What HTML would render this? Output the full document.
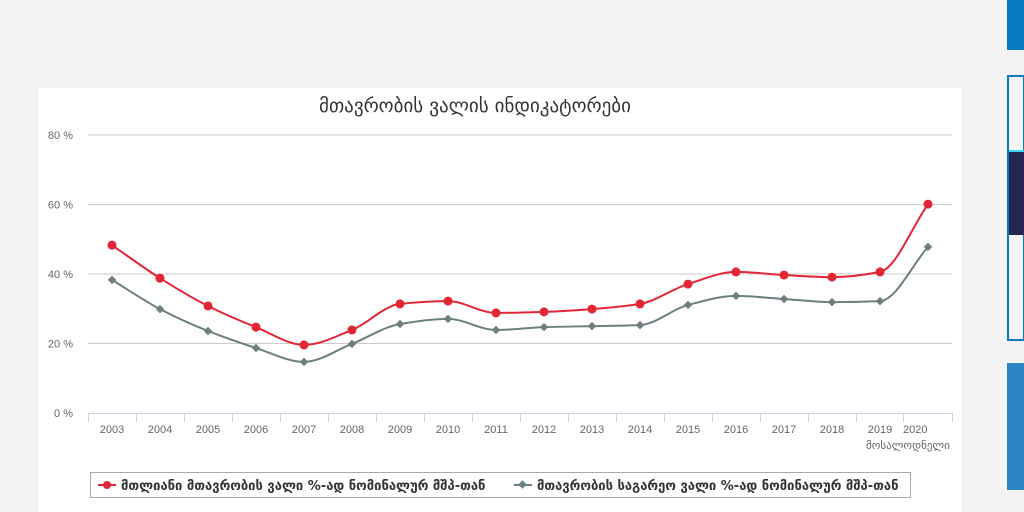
<!DOCTYPE html>
<html><head><meta charset="utf-8"><style>
body{margin:0;width:1024px;height:512px;overflow:hidden;background:#f3f3f3;font-family:"Liberation Sans","DejaVu Sans",sans-serif;}
svg{position:absolute;left:0;top:0}
</style></head><body>
<svg width="1024" height="512">
<rect x="38" y="88" width="924" height="424" fill="#fff"/>
<rect x="1007" y="0" width="17" height="50" fill="#0a7ac0"/>
<rect x="1008" y="76" width="16" height="264" fill="#f4f4f4" stroke="#0a7ac0" stroke-width="2"/>
<rect x="1009" y="150" width="15" height="2" fill="#3dd6f0"/>
<rect x="1009" y="152" width="15" height="83" fill="#252550"/>
<rect x="1007" y="363" width="17" height="127" fill="#2a85c4"/>
<text x="475" y="112" text-anchor="middle" font-family="DejaVu Sans,sans-serif" font-size="19" fill="#333">მთავრობის ვალის ინდიკატორები</text>
<g id="grid"></g><g id="xaxis"></g><g id="series"></g>
<g>
<rect x="90.5" y="472.5" width="820" height="25" fill="#fff" stroke="#aaa"/>
<g>
<line x1="98" y1="485" x2="116" y2="485" stroke="#e32636" stroke-width="2"/><circle cx="107" cy="485" r="4" fill="#e32636"/>
<text x="121" y="490" font-family="DejaVu Sans,sans-serif" font-size="13" font-weight="bold" fill="#333">მთლიანი მთავრობის ვალი %-ად ნომინალურ მშპ-თან</text></g>
<g>
<line x1="514" y1="485" x2="532" y2="485" stroke="#6b8080" stroke-width="2"/><rect x="519.5" y="481.5" width="6" height="6" transform="rotate(45 522.5 484.5)" fill="#6b8080"/>
<text x="537" y="490" font-family="DejaVu Sans,sans-serif" font-size="13" font-weight="bold" fill="#333">მთავრობის საგარეო ვალი %-ად ნომინალურ მშპ-თან</text></g>
</g>
</svg>
<script>
const years=["2003","2004","2005","2006","2007","2008","2009","2010","2011","2012","2013","2014","2015","2016","2017","2018","2019","2020"];
const totalDebt=[48.3,38.8,30.8,24.7,19.6,23.9,31.4,32.2,28.8,29.1,29.9,31.4,37.1,40.6,39.7,39.1,40.6,60.1];
const externalDebt=[38.3,29.9,23.6,18.7,14.7,19.9,25.6,27.1,23.9,24.7,25.0,25.3,31.1,33.7,32.8,31.9,32.2,47.8];
const yTicks=[0,20,40,60,80];
const NS="http://www.w3.org/2000/svg";
const x0=88,x1=952,y0=413,y80=135;
const bw=48;
function bandStart(i){return i<17?x0+i*bw:903;}
function bandEnd(i){return i<17?x0+(i+1)*bw:953;}
function xs(i){return (bandStart(i)+bandEnd(i))/2;}
function ys(v){return y0-(v/80)*(y0-y80);}
function mk(t,a,p){const e=document.createElementNS(NS,t);for(const k in a)e.setAttribute(k,a[k]);p.appendChild(e);return e;}
const grid=document.getElementById('grid');
yTicks.forEach(v=>{
 if(v>0){const l=mk('line',{x1:x0,x2:x1,y1:ys(v),y2:ys(v),stroke:'#ccc','stroke-width':1},grid);
 
 }
 const t=mk('text',{x:73,y:ys(v)+4,'text-anchor':'end','font-size':11,fill:'#666'},grid);
 t.textContent=v+' %';
 
 
});
const xa=document.getElementById('xaxis');
const ax=mk('line',{x1:x0,x2:953,y1:413.5,y2:413.5,stroke:'#c6d6e8'},xa);


years.forEach((y,i)=>{
 mk('line',{x1:bandStart(i)+.5,x2:bandStart(i)+.5,y1:413,y2:422,stroke:'#c6d6e8'},xa);
 const t=mk('text',{x:i<17?xs(i):903,y:433,'text-anchor':i<17?'middle':'start','font-size':11,fill:'#666'},xa);
 t.textContent=y;
 
 
});
mk('line',{x1:952.5,x2:952.5,y1:413,y2:422,stroke:'#c6d6e8'},xa);
const n=mk('text',{x:866,y:449,'font-size':11,fill:'#666','font-family':'DejaVu Sans,sans-serif'},xa);
n.textContent='მოსალოდნელი';


function path(vals){
 const p=vals.map((v,i)=>[xs(i),ys(v)]);const N=p.length;
 const s=[];for(let i=0;i<N-1;i++)s.push((p[i+1][1]-p[i][1])/(p[i+1][0]-p[i][0]));
 const m=[];
 for(let i=0;i<N;i++){
  if(i==0)m.push(s[0]);else if(i==N-1)m.push(s[N-2]);
  else if(s[i-1]*s[i]<=0)m.push(0);
  else{const h0=p[i][0]-p[i-1][0],h1=p[i+1][0]-p[i][0];m.push(3*(h0+h1)/((2*h1+h0)/s[i-1]+(h1+2*h0)/s[i]));}
 }
 let d='M'+p[0];
 for(let i=0;i<N-1;i++){const h=(p[i+1][0]-p[i][0])/3;
  d+=' C'+(p[i][0]+h)+','+(p[i][1]+m[i]*h)+' '+(p[i+1][0]-h)+','+(p[i+1][1]-m[i+1]*h)+' '+p[i+1][0]+','+p[i+1][1];}
 return d;}
const sg=document.getElementById('series');
const l2=mk('path',{d:path(externalDebt),fill:'none',stroke:'#6b8080','stroke-width':2},sg);


const l1=mk('path',{d:path(totalDebt),fill:'none',stroke:'#e32636','stroke-width':2},sg);


externalDebt.forEach((v,i)=>{const r=mk('rect',{x:xs(i)-3,y:ys(v)-3,width:6,height:6,fill:'#6b8080',transform:`rotate(45 ${xs(i)} ${ys(v)})`},sg);
 
 });
totalDebt.forEach((v,i)=>{const c=mk('circle',{cx:xs(i),cy:ys(v),r:4.5,fill:'#e32636'},sg);
 
 });
</script>
</body></html>
